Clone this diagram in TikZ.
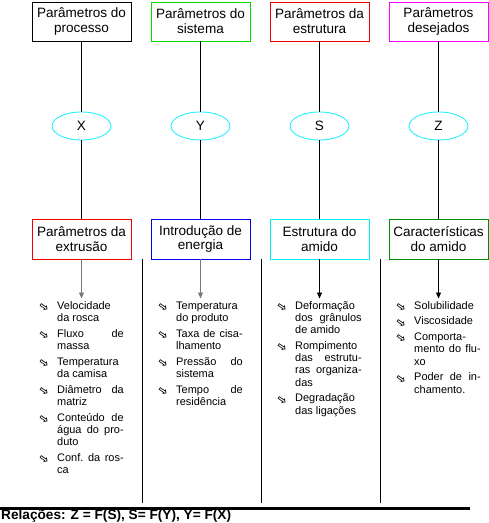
\documentclass[tikz,border=0pt]{standalone}
\usepackage{fontspec}
\usepackage{graphicx}
\setmainfont{Liberation Sans}
\newfontfamily\symfont{DejaVu Sans}
\usetikzlibrary{shapes.geometric,arrows.meta}
\definecolor{cgreen}{RGB}{0,220,0}
\definecolor{cred}{RGB}{240,0,0}
\definecolor{cmag}{RGB}{255,0,255}
\definecolor{cblue}{RGB}{0,0,240}
\definecolor{ccyan}{RGB}{0,240,240}
\definecolor{cdgreen}{RGB}{0,140,0}
\definecolor{cell}{RGB}{40,240,255}
\definecolor{carrgray}{RGB}{120,120,120}
\newcommand\bul{\leavevmode\llap{\makebox[19bp][l]{\smash{\raisebox{1.8bp}{\symfont\bfseries\fontsize{11.5}{11.5}\selectfont\rotatebox{-35}{⇨}}}}}}
\newcommand\jl[1]{\leavevmode\hbox to 66.5bp{\spaceskip=0.278em plus 1fil\xspaceskip=0.278em plus 1fil\relax #1}}
\newcommand\resetsp{\spaceskip=0pt\xspaceskip=0pt\relax}
\tikzset{
  hbox/.style={draw, line width=0.9bp, minimum width=99bp, minimum height=39bp, inner sep=0pt, align=center, font=\fontsize{13.6}{14.8}\selectfont},
  ell/.style={draw=cell, line width=0.9bp, ellipse, minimum width=59bp, minimum height=28bp, inner sep=0pt, font=\fontsize{13.6}{15}\selectfont},
  conn/.style={line width=0.9bp},
  arr/.style={line width=0.9bp, -{Triangle[length=6bp,width=5bp]}},
  divline/.style={line width=0.9bp},
  lst/.style={anchor=north west, inner sep=0pt, text width=70bp, align=left, font=\fontsize{11}{12.3}\selectfont},
}
\begin{document}
\begin{tikzpicture}[x=1bp,y=-1bp]
\useasboundingbox (0,0) rectangle (489,523);
% top boxes
\node[hbox] (t1) at (81.5,21.5) {Parâmetros do\\processo};
\node[hbox, draw=cgreen] (t2) at (200.5,21.5) {Parâmetros do\\sistema};
\node[hbox, draw=cred] (t3) at (319.5,21.5) {Parâmetros da\\estrutura};
\node[hbox, draw=cmag] (t4) at (438.5,21.5) {Parâmetros\\desejados};
% ellipses
\node[ell] (e1) at (81.5,126) {X};
\node[ell] (e2) at (200.5,126) {Y};
\node[ell] (e3) at (319.5,126) {S};
\node[ell] (e4) at (438.5,126) {Z};
% bottom boxes
\node[hbox, draw=cred, minimum height=40bp] (b1) at (81.5,239) {Parâmetros da\\extrusão};
\node[hbox, draw=cblue, minimum height=40bp] (b2) at (200.5,239) {Introdução de\\energia};
\node[hbox, draw=ccyan, minimum height=40bp] (b3) at (319.5,239) {Estrutura do\\amido};
\node[hbox, draw=cdgreen, minimum height=40bp] (b4) at (438.5,239) {Características\\do amido};
% connectors
\foreach \i in {1,2,3,4}{
  \draw[conn] (t\i) -- (e\i);
  \draw[conn] (e\i) -- (b\i);
}
\coordinate (a1) at (81.5,298.5);
\coordinate (a2) at (200.5,298.5);
\coordinate (a3) at (319.5,298.5);
\coordinate (a4) at (438.5,298.5);
\draw[arr, carrgray] (b1) -- (a1);
\draw[arr, carrgray] (b2) -- (a2);
\draw[arr] (b3) -- (a3);
\draw[arr] (b4) -- (a4);
% dividers
\draw[divline] (142,259) -- (142,503);
\draw[divline] (261,259) -- (261,503);
\draw[divline] (380,259) -- (380,503);
% lists
\node[lst] (l1) at (57,300.4) {\resetsp\strut\bul Velocidade\\
da rosca\\[3.5bp]
\bul\jl{Fluxo de}\\
massa\\[3.5bp]
\bul Temperatura\\
da camisa\\[3.5bp]
\bul\jl{Diâmetro da}\\
matriz\\[3.5bp]
\bul\jl{Conteúdo de}\\
\jl{água do pro-}\\
duto\\[3.5bp]
\bul\jl{Conf. da ros-}\\
ca};
\node[lst] (l2) at (176,300.4) {\resetsp\strut\bul Temperatura\\
do produto\\[3.5bp]
\bul\jl{Taxa de cisa-}\\
lhamento\\[3.5bp]
\bul\jl{Pressão do}\\
sistema\\[3.5bp]
\bul\jl{Tempo de}\\
residência};
\node[lst] (l3) at (295,300.4) {\resetsp\strut\bul Deformação\\
\jl{dos grânulos}\\
de amido\\[3.5bp]
\bul Rompimento\\
\jl{das estrutu-}\\
\jl{ras organiza-}\\
das\\[3.5bp]
\bul Degradação\\
das ligações};
\node[lst] (l4) at (414,300.4) {\resetsp\strut\bul Solubilidade\\[3.5bp]
\bul Viscosidade\\[3.5bp]
\bul Comporta-\\
\jl{mento do flu-}\\
xo\\[3.5bp]
\bul\jl{Poder de in-}\\
chamento.};
% bottom rule and relation
\draw[line width=2.7bp] (0,508.3) -- (470,508.3);
\node[anchor=base west, inner sep=0pt, font=\bfseries\fontsize{13.7}{16}\selectfont] (rel) at (1,519) {Relações: Z = F(S), S= F(Y), Y= F(X)};
\end{tikzpicture}
\end{document}
